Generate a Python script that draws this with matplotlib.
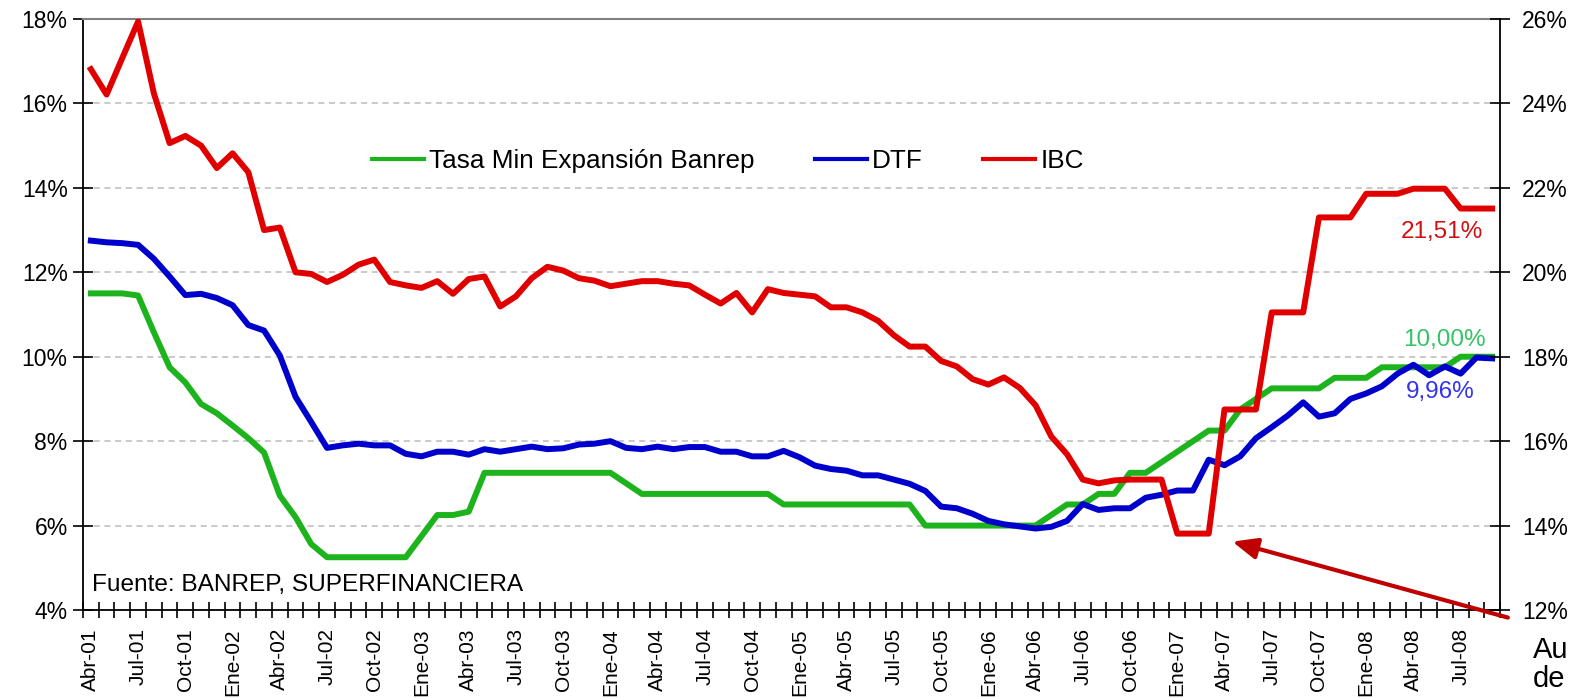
import numpy as np
import matplotlib
matplotlib.use('Agg')
import matplotlib.pyplot as plt
from matplotlib.lines import Line2D

plt.rcParams['font.family'] = ['Liberation Sans', 'DejaVu Sans']

# series mensuales, Abr-01 .. Sep-08 (%)
tasa_banrep = [11.5, 11.5, 11.5, 11.45, 10.58, 9.75, 9.39, 8.88, 8.66, 8.37,
               8.07, 7.73, 6.71, 6.2, 5.56, 5.25, 5.25, 5.25, 5.25, 5.25,
               5.25, 5.75, 6.25, 6.25, 6.33, 7.25, 7.25, 7.25, 7.25, 7.25,
               7.25, 7.25, 7.25, 7.25, 7.0, 6.75, 6.75, 6.75, 6.75, 6.75,
               6.75, 6.75, 6.75, 6.75, 6.5, 6.5, 6.5, 6.5, 6.5, 6.5,
               6.5, 6.5, 6.5, 6.0, 6.0, 6.0, 6.0, 6.0, 6.0, 6.0,
               6.0, 6.25, 6.5, 6.5, 6.75, 6.75, 7.25, 7.25, 7.5, 7.75,
               8.0, 8.25, 8.25, 8.75, 9.0, 9.25, 9.25, 9.25, 9.25, 9.5,
               9.5, 9.5, 9.75, 9.75, 9.75, 9.75, 9.75, 10.0, 10.0, 10.0]

dtf = [12.75, 12.71, 12.69, 12.65, 12.32, 11.9, 11.46, 11.49, 11.39, 11.22,
       10.75, 10.62, 10.03, 9.05, 8.45, 7.84, 7.9, 7.94, 7.9, 7.9,
       7.7, 7.64, 7.75, 7.75, 7.68, 7.81, 7.75, 7.81, 7.87, 7.81,
       7.83, 7.92, 7.94, 8.0, 7.84, 7.81, 7.87, 7.81, 7.86, 7.86,
       7.75, 7.75, 7.64, 7.64, 7.77, 7.62, 7.42, 7.34, 7.3, 7.19,
       7.19, 7.09, 6.99, 6.82, 6.45, 6.41, 6.28, 6.11, 6.03, 5.98,
       5.93, 5.97, 6.11, 6.51, 6.37, 6.41, 6.41, 6.66, 6.73, 6.83,
       6.83, 7.56, 7.43, 7.64, 8.07, 8.33, 8.6, 8.92, 8.58, 8.66,
       9.0, 9.13, 9.3, 9.6, 9.81, 9.56, 9.77, 9.6, 9.98, 9.96]

ibc = [24.81, 24.21, 25.08, 25.94, 24.24, 23.06, 23.23, 23.0, 22.47, 22.82,
       22.37, 21.0, 21.06, 20.0, 19.96, 19.77, 19.94, 20.18, 20.3, 19.77,
       19.69, 19.63, 19.79, 19.49, 19.84, 19.9, 19.19, 19.43, 19.86, 20.13,
       20.04, 19.86, 19.8, 19.67, 19.73, 19.79, 19.79, 19.73, 19.69, 19.47,
       19.26, 19.51, 19.05, 19.6, 19.51, 19.47, 19.43, 19.17, 19.17, 19.05,
       18.85, 18.51, 18.24, 18.24, 17.9, 17.77, 17.47, 17.34, 17.51, 17.26,
       16.85, 16.11, 15.69, 15.09, 15.0, 15.07, 15.09, 15.09, 15.09, 13.81,
       13.81, 13.81, 16.75, 16.75, 16.75, 19.05, 19.05, 19.05, 21.3, 21.3,
       21.3, 21.86, 21.86, 21.86, 21.98, 21.98, 21.98, 21.51, 21.51, 21.51]

etiquetas = ['Abr-01', 'Jul-01', 'Oct-01', 'Ene-02', 'Abr-02', 'Jul-02', 'Oct-02',
             'Ene-03', 'Abr-03', 'Jul-03', 'Oct-03', 'Ene-04', 'Abr-04', 'Jul-04',
             'Oct-04', 'Ene-05', 'Abr-05', 'Jul-05', 'Oct-05', 'Ene-06', 'Abr-06',
             'Jul-06', 'Oct-06', 'Ene-07', 'Abr-07', 'Jul-07', 'Oct-07', 'Ene-08',
             'Abr-08', 'Jul-08']

nombres = ['Tasa Min Expansión Banrep', 'DTF', 'IBC']
colores = ['#1DB31D', '#0000CC', '#E00000']

x = np.arange(len(dtf))
n = len(x)

fig = plt.figure(figsize=(15.81, 6.98), dpi=100)
ax = fig.add_axes([83 / 1581, 88 / 698, 1417 / 1581, 591 / 698])
ax2 = ax.twinx()

ax.plot(x, tasa_banrep, color=colores[0], lw=4.3)
ax.plot(x, dtf, color=colores[1], lw=4.3)
ax2.plot(x, ibc, color=colores[2], lw=4.3)

ax.set_xlim(-0.5, n - 0.5)
ax.set_ylim(4, 18)
ax2.set_ylim(12, 26)

ax.set_yticks(range(4, 19, 2))
ax.set_yticklabels([f'{v}%' for v in range(4, 19, 2)])
ax2.set_yticks(range(12, 27, 2))
ax2.set_yticklabels([f'{v}%' for v in range(12, 27, 2)])

ax.set_xticks(x[::3])
ax.set_xticklabels(etiquetas, rotation=90)
ax.set_xticks(np.arange(-0.5, n), minor=True)

ax.tick_params(axis='x', which='major', length=0, pad=13, labelsize=15)
ax.tick_params(axis='x', which='minor', length=12, direction='inout', width=1.2)
ax.tick_params(axis='y', length=14, direction='inout', width=1.2, labelsize=16.5, pad=4)
ax2.tick_params(axis='y', length=14, direction='inout', width=1.2, labelsize=16.5, pad=9)

# rejilla punteada
ax.yaxis.grid(True, linestyle=(0, (4, 3)), color='#BBBBBB', lw=1.1)
ax.set_axisbelow(True)

for s in ['left', 'bottom']:
    ax.spines[s].set_linewidth(1.3)
ax.spines['right'].set_visible(False)
ax.spines['top'].set_color('#808080')
ax.spines['top'].set_linewidth(1.5)
for s in ['left', 'bottom', 'top']:
    ax2.spines[s].set_visible(False)
ax2.spines['right'].set_linewidth(1.3)

handles = [Line2D([], [], color=c, lw=3) for c in colores]
ax.legend(handles, nombres, loc='center', bbox_to_anchor=(0.455, 0.76), ncol=3,
          frameon=False, fontsize=18.8, handlelength=2.0, handletextpad=0.2,
          columnspacing=2.3)

# etiquetas del ultimo dato
ax2.text(n - 1 - 3.2, ibc[-1] - 0.55, '21,51%', color='#D01010', fontsize=17.5,
         ha='center', va='center')
ax.text(n - 1 - 3.0, tasa_banrep[-1] + 0.4, '10,00%', color='#33C466', fontsize=17.5,
        ha='center', va='center')
ax.text(n - 1 - 3.3, dtf[-1] - 0.79, '9,96%', color='#3333EE', fontsize=17.5,
        ha='center', va='center')

ax.text(0.0065, 0.042, 'Fuente: BANREP, SUPERFINANCIERA', transform=ax.transAxes,
        fontsize=17.6, ha='left', va='center')

ax.annotate('', xy=(72.5, 5.62), xytext=(90.0, 3.82), xycoords='data',
            arrowprops=dict(arrowstyle='-|>,head_length=0.75,head_width=0.32',
                            color='#C00000', lw=3, shrinkA=0, shrinkB=0,
                            mutation_scale=20),
            annotation_clip=False)

fig.text(1533 / 1581, 1 - 636 / 698, 'Au\nde', fontsize=21, ha='left', va='top',
         linespacing=1.05)

fig.savefig('out.png', dpi=100)
